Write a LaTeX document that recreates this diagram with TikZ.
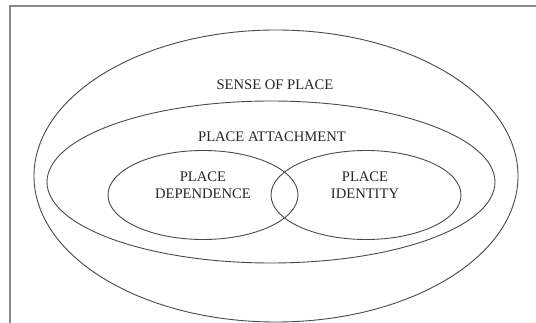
\documentclass[tikz,border=0pt]{standalone}
\usepackage{fontspec}
\setmainfont{Liberation Serif}
\usepackage{xcolor}
\usetikzlibrary{shapes.geometric}
\definecolor{framegray}{HTML}{8A8A8A}
\definecolor{linegray}{HTML}{4A4A4A}

\begin{document}
\begin{tikzpicture}[x=1pt,y=-1pt,font=\fontsize{14.6}{17}\selectfont]
\tikzset{ring/.style={draw=linegray,line width=0.9pt,ellipse,inner sep=0pt},
  lbl/.style={align=center,text=black!85}}
\useasboundingbox (0,0) rectangle (536,323);
\draw[framegray,line width=1.4pt] (10,6) rectangle (560,340);
\node[ring,minimum width=484pt,minimum height=292pt] (sense) at (276,176) {};
\node[ring,minimum width=448pt,minimum height=162pt] (attach) at (271,182) {};
\node[ring,minimum width=190pt,minimum height=89pt] (depend) at (203,195) {};
\node[ring,minimum width=190pt,minimum height=89pt] (ident) at (366,195) {};
\node[lbl] (senselbl) at (275,85) {SENSE OF PLACE};
\node[lbl] (attachlbl) at (272,137) {PLACE ATTACHMENT};
\node[lbl] (dependlbl) at (203,185.5) {PLACE\\DEPENDENCE};
\node[lbl] (identlbl) at (365,185.5) {PLACE\\IDENTITY};
\end{tikzpicture}
\end{document}
